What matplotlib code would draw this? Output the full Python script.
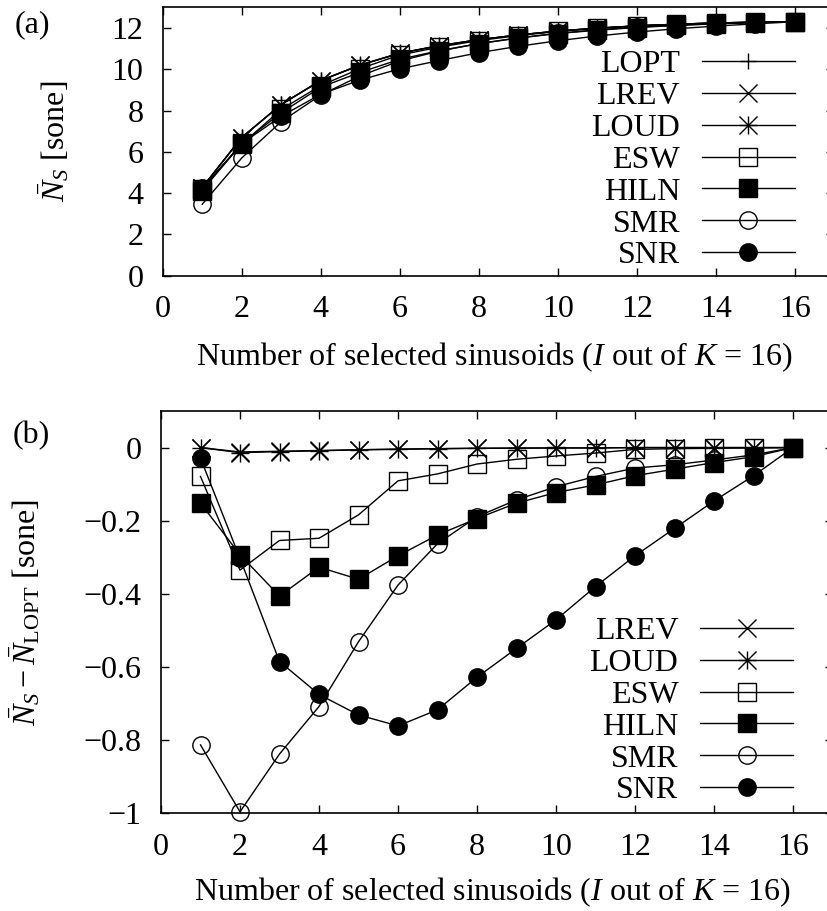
import matplotlib
matplotlib.use("Agg")
import matplotlib.pyplot as plt
from matplotlib.path import Path
import numpy as np

plt.rcParams['font.family'] = ['Liberation Serif', 'DejaVu Serif']
plt.rcParams['mathtext.fontset'] = 'custom'
plt.rcParams['mathtext.rm'] = 'Liberation Serif'
plt.rcParams['mathtext.it'] = 'Liberation Serif:italic'
plt.rcParams['mathtext.bf'] = 'Liberation Serif:bold'

# ---------------- data ----------------
I_vals = [1, 2, 3, 4, 5, 6, 7, 8, 9, 10, 11, 12, 13, 14, 15, 16]

# (a) mean loudness [sone]
lopt = [4.27, 6.70, 8.30, 9.46, 10.21, 10.78, 11.14, 11.43, 11.66, 11.85, 11.99, 12.10, 12.18, 12.24, 12.28, 12.30]
lrev = [4.27, 6.69, 8.29, 9.45, 10.20, 10.78, 11.14, 11.43, 11.66, 11.85, 11.99, 12.10, 12.18, 12.24, 12.28, 12.30]
loud = [4.27, 6.69, 8.29, 9.45, 10.20, 10.77, 11.14, 11.43, 11.66, 11.85, 11.99, 12.10, 12.18, 12.24, 12.28, 12.30]
esw = [4.19, 6.37, 8.05, 9.21, 10.03, 10.69, 11.07, 11.39, 11.63, 11.83, 11.98, 12.10, 12.18, 12.24, 12.28, 12.30]
hiln = [4.12, 6.41, 7.89, 9.13, 9.85, 10.48, 10.90, 11.24, 11.51, 11.73, 11.89, 12.02, 12.12, 12.20, 12.26, 12.30]
smr = [3.46, 5.70, 7.46, 8.75, 9.68, 10.40, 10.88, 11.24, 11.52, 11.74, 11.91, 12.04, 12.13, 12.21, 12.26, 12.30]
snr = [4.24, 6.40, 7.72, 8.79, 9.48, 10.02, 10.42, 10.80, 11.11, 11.38, 11.61, 11.80, 11.96, 12.09, 12.20, 12.30]

# (b) difference to LOPT [sone]
d_lrev = [0.0, -0.012, -0.010, -0.008, -0.006, -0.004, -0.003, -0.002, -0.001, -0.001, -0.001, 0.0, 0.0, 0.0, 0.0, 0.0]
d_loud = [0.0, -0.014, -0.011, -0.009, -0.006, -0.005, -0.003, -0.002, -0.002, -0.001, -0.001, 0.0, 0.0, 0.0, 0.0, 0.0]
d_esw = [-0.079, -0.335, -0.254, -0.248, -0.184, -0.091, -0.072, -0.045, -0.032, -0.023, -0.015, -0.005, -0.003, -0.002, -0.001, 0.0]
d_hiln = [-0.152, -0.293, -0.406, -0.327, -0.360, -0.296, -0.239, -0.194, -0.152, -0.123, -0.102, -0.077, -0.059, -0.041, -0.025, 0.0]
d_smr = [-0.813, -0.996, -0.838, -0.708, -0.531, -0.376, -0.263, -0.189, -0.143, -0.107, -0.079, -0.056, -0.047, -0.034, -0.020, 0.0]
d_snr = [-0.029, -0.303, -0.585, -0.675, -0.731, -0.761, -0.717, -0.628, -0.549, -0.471, -0.380, -0.296, -0.221, -0.146, -0.077, 0.0]

names_a = ['LOPT', 'LREV', 'LOUD', 'ESW', 'HILN', 'SMR', 'SNR']
series_a = [lopt, lrev, loud, esw, hiln, smr, snr]
names_b = ['LREV', 'LOUD', 'ESW', 'HILN', 'SMR', 'SNR']
series_b = [d_lrev, d_loud, d_esw, d_hiln, d_smr, d_snr]

xticks = [0, 2, 4, 6, 8, 10, 12, 14, 16]
yticks_a = [0, 2, 4, 6, 8, 10, 12]
yticks_b = [0, -0.2, -0.4, -0.6, -0.8, -1]
yticklabels_b = ['0', '\u22120.2', '\u22120.4', '\u22120.6', '\u22120.8', '\u22121']

# ---------------- styles ----------------
aster = Path([(0, -1), (0, 1), (-1, 0), (1, 0), (-1, -1), (1, 1), (-1, 1), (1, -1)],
             [Path.MOVETO, Path.LINETO] * 4)
styles = {
    'LOPT': dict(marker='+', ms=11, mfc='none'),
    'LREV': dict(marker='x', ms=13, mfc='none'),
    'LOUD': dict(marker=aster, ms=13, mfc='none'),
    'ESW': dict(marker='s', ms=12.5, mfc='none'),
    'HILN': dict(marker='s', ms=12.5, mfc='black'),
    'SMR': dict(marker='o', ms=12.5, mfc='none'),
    'SNR': dict(marker='o', ms=12.5, mfc='black'),
}

FS = 23
W, H = 827, 911
fig = plt.figure(figsize=(W / 100, H / 100), dpi=100)

ax1 = fig.add_axes([162.7 / W, 1 - 275.7 / H, 671.5 / W, (275.7 - 7.3) / H])
ax2 = fig.add_axes([161.0 / W, 1 - 813.3 / H, 671.5 / W, (813.3 - 411.0) / H])


def style_axes(ax):
    ax.tick_params(direction='in', length=5.5, width=1.0, top=True, right=True,
                   labelsize=FS, pad=14)
    for s in ax.spines.values():
        s.set_linewidth(1.2)
    ax.set_xlim(0, 17)
    ax.set_xticks(xticks)


leg_kw = dict(loc='upper right', frameon=False, fontsize=FS, markerfirst=False,
              numpoints=1, handlelength=2.9, handletextpad=0.69, labelspacing=0.08,
              borderpad=0, borderaxespad=0)

for name, ys in zip(names_a, series_a):
    st = styles[name]
    ax1.plot(I_vals, ys, color='black', lw=1.0, marker=st['marker'], ms=st['ms'],
             mfc=st['mfc'], mec='black', mew=1.0, label=name, clip_on=False)
style_axes(ax1)
ax1.set_ylim(0, 13)
ax1.set_yticks(yticks_a)
ax1.set_ylabel(r'$\bar{N}_S$ [sone]', fontsize=FS)
ax1.yaxis.set_label_coords(-0.136, 0.5)
ax1.set_xlabel(r'Number of selected sinusoids ($I$ out of $K$ = 16)', fontsize=FS)
ax1.xaxis.set_label_coords(0.494, -0.243)
ax1.legend(bbox_to_anchor=(16.0, 10.95), bbox_transform=ax1.transData, **leg_kw)

for name, ys in zip(names_b, series_b):
    st = styles[name]
    ax2.plot(I_vals, ys, color='black', lw=1.0, marker=st['marker'], ms=st['ms'],
             mfc=st['mfc'], mec='black', mew=1.0, label=name, clip_on=False)
style_axes(ax2)
ax2.set_ylim(-1, 0.1)
ax2.set_yticks(yticks_b)
ax2.set_yticklabels(yticklabels_b)
ax2.set_ylabel(r'$\bar{N}_S - \bar{N}_{\mathrm{LOPT}}$ [sone]', fontsize=FS)
ax2.yaxis.set_label_coords(-0.176, 0.5)
ax2.set_xlabel(r'Number of selected sinusoids ($I$ out of $K$ = 16)', fontsize=FS)
ax2.xaxis.set_label_coords(0.494, -0.155)
ax2.legend(bbox_to_anchor=(16.0, -0.462), bbox_transform=ax2.transData, **leg_kw)

fig.text(15 / W, 1 - 25 / H, '(a)', fontsize=FS, ha='left', va='center')
fig.text(13 / W, 1 - 436 / H, '(b)', fontsize=FS, ha='left', va='center')

fig.savefig('out.png', dpi=100)
